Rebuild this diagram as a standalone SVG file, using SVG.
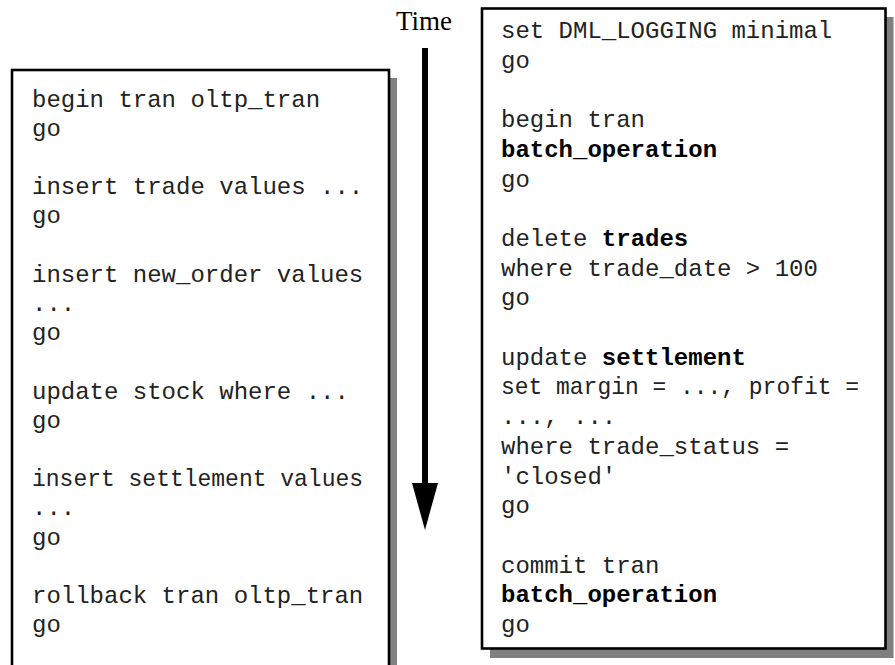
<svg xmlns="http://www.w3.org/2000/svg" width="895" height="665" viewBox="0 0 895 665">
  <style>
    .shadow { fill: #808080; }
    .frame { fill: #ffffff; stroke: #000000; stroke-width: 2.6; }
    .code { font-family: "Liberation Mono", "Courier New", monospace; font-size: 24px; fill: #222222; }
    .code .b { font-weight: bold; fill: #000000; }
    .label { font-family: "Liberation Serif", "Times New Roman", serif; font-size: 27px; fill: #000000; }
  </style>

  <rect width="895" height="665" fill="#ffffff"/>

  <!-- OLTP transaction panel (runs off the bottom edge) -->
  <g id="oltp-transaction">
    <rect class="shadow" x="20" y="78" width="377" height="600"/>
    <rect class="frame" x="12" y="70" width="377" height="610"/>
    <text class="code" x="32" y="106.5">begin tran oltp_tran</text>
    <text class="code" x="32" y="135.7">go</text>
    <text class="code" x="32" y="194.1">insert trade values ...</text>
    <text class="code" x="32" y="223.3">go</text>
    <text class="code" x="32" y="281.7">insert new_order values</text>
    <text class="code" x="32" y="310.9">...</text>
    <text class="code" x="32" y="340.1">go</text>
    <text class="code" x="32" y="398.5">update stock where ...</text>
    <text class="code" x="32" y="427.7">go</text>
    <text class="code" x="32" y="486.1" textLength="331" lengthAdjust="spacingAndGlyphs">insert settlement values</text>
    <text class="code" x="32" y="515.3">...</text>
    <text class="code" x="32" y="544.5">go</text>
    <text class="code" x="32" y="602.9">rollback tran oltp_tran</text>
    <text class="code" x="32" y="632.1">go</text>
  </g>

  <!-- Time axis -->
  <g id="time-axis">
    <text class="label" x="396" y="30">Time</text>
    <rect x="422" y="48" width="6" height="440" fill="#000000"/>
    <polygon points="412,483 438,483 425,530" fill="#000000"/>
  </g>

  <g id="connectors"/>

  <!-- Minimally logged batch transaction panel -->
  <g id="batch-transaction">
    <rect class="shadow" x="490" y="17" width="403.5" height="641"/>
    <rect class="frame" x="482" y="8.5" width="403.5" height="640"/>
    <text class="code" x="501" y="38">set DML_LOGGING minimal</text>
    <text class="code" x="501" y="67.7">go</text>
    <text class="code" x="501" y="127.1">begin tran</text>
    <text class="code" x="501" y="156.8"><tspan class="b">batch_operation</tspan></text>
    <text class="code" x="501" y="186.5">go</text>
    <text class="code" x="501" y="245.9">delete <tspan class="b">trades</tspan></text>
    <text class="code" x="501" y="275.6">where trade_date &gt; 100</text>
    <text class="code" x="501" y="305.3">go</text>
    <text class="code" x="501" y="364.7">update <tspan class="b">settlement</tspan></text>
    <text class="code" x="501" y="394.4" textLength="358" lengthAdjust="spacingAndGlyphs">set margin = ..., profit =</text>
    <text class="code" x="501" y="424.1">..., ...</text>
    <text class="code" x="501" y="453.8">where trade_status =</text>
    <text class="code" x="501" y="483.5">'closed'</text>
    <text class="code" x="501" y="513.2">go</text>
    <text class="code" x="501" y="572.6">commit tran</text>
    <text class="code" x="501" y="602.3"><tspan class="b">batch_operation</tspan></text>
    <text class="code" x="501" y="632">go</text>
  </g>
</svg>
